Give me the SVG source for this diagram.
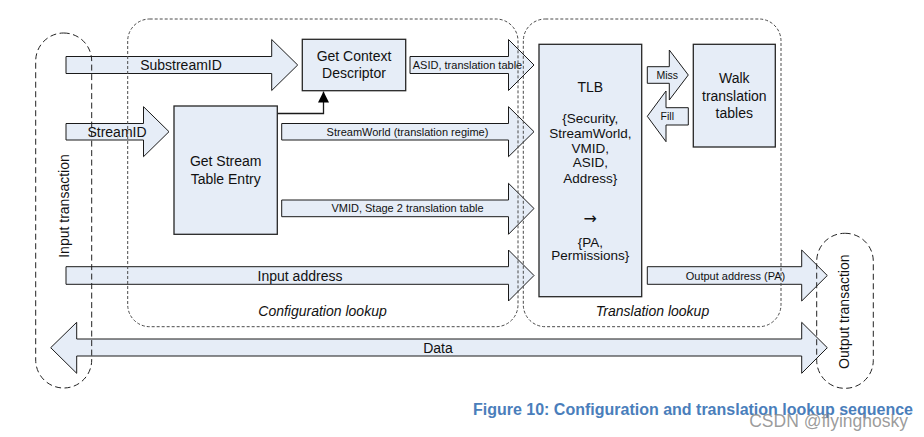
<svg xmlns="http://www.w3.org/2000/svg" width="924" height="437" viewBox="0 0 924 437">
<style>
  .bg { fill: #ffffff; }
  .box { fill: #e6edf7; stroke: #262626; stroke-width: 1.3; }
  .arr { fill: #e6edf7; stroke: #1a1a1a; stroke-width: 1; stroke-linejoin: miter; }
  .grp { fill: none; stroke: #4a4a4a; stroke-width: 1; stroke-dasharray: 3 2; }
  .txn { fill: none; stroke: #222222; stroke-width: 1; stroke-dasharray: 6 3.5; }
  .t14 { font-family: "Liberation Sans", Arial, sans-serif; font-size: 14px; fill: #111111; text-anchor: middle; }
  .t13 { font-family: "Liberation Sans", Arial, sans-serif; font-size: 13.5px; fill: #111111; text-anchor: middle; }
  .t11 { font-family: "Liberation Sans", Arial, sans-serif; font-size: 11px; fill: #111111; text-anchor: middle; }
  .sym { font-family: "DejaVu Sans", sans-serif; font-size: 16px; fill: #111111; text-anchor: middle; }
  .it { font-family: "Liberation Sans", Arial, sans-serif; font-size: 14px; font-style: italic; fill: #111111; text-anchor: middle; }
  .cap { font-family: "Liberation Sans", Arial, sans-serif; font-size: 16px; font-weight: bold; fill: #4a7ebb; }
  .wm { font-family: "Liberation Sans", Arial, sans-serif; font-size: 17.5px; fill: #8a8a8a; fill-opacity: 0.85; }
  .line { fill: none; stroke: #1a1a1a; stroke-width: 1.3; }
</style>
<defs>
  <marker id="tri" viewBox="0 0 10 10" refX="10" refY="5" markerWidth="11" markerHeight="17" markerUnits="userSpaceOnUse" orient="auto">
    <path d="M0,0 L10,5 L0,10 Z" fill="#000000"/>
  </marker>
</defs>
<rect class="bg" x="0" y="0" width="924" height="437"/>

<g id="connectors">
  <polygon id="arr-substreamid" class="arr" points="66,56.5 271.7,56.5 271.7,39.5 297.7,65 271.7,90.5 271.7,73.5 66,73.5"/>
  <polygon id="arr-streamid" class="arr" points="66,123.5 143.5,123.5 143.5,106.7 169,131.7 143.5,156.7 143.5,140 66,140"/>
  <polygon id="arr-asid" class="arr" points="410,56.5 508.5,56.5 508.5,39.5 534,65 508.5,90.5 508.5,73.5 410,73.5"/>
  <polygon id="arr-streamworld" class="arr" points="281.7,123.5 508.5,123.5 508.5,106.7 534,131.7 508.5,156.7 508.5,140 281.7,140"/>
  <polygon id="arr-vmid" class="arr" points="281.7,200 508.5,200 508.5,183.3 534,208.5 508.5,234.3 508.5,216.7 281.7,216.7"/>
  <polygon id="arr-inaddr" class="arr" points="66,266.7 508.5,266.7 508.5,250 534,275.5 508.5,301 508.5,284.3 66,284.3"/>
  <polygon id="arr-outaddr" class="arr" points="647.3,266.7 801.7,266.7 801.7,250 827.3,275.5 801.7,301 801.7,284.3 647.3,284.3"/>
  <polygon id="arr-miss" class="arr" points="647.3,66.7 669.3,66.7 669.3,50 688.3,75 669.3,100 669.3,83.3 647.3,83.3"/>
  <polygon id="arr-fill" class="arr" points="688.3,107.7 666,107.7 666,91 647.3,116.3 666,141.7 666,125 688.3,125"/>
  <polygon id="arr-data" class="arr" points="50.7,347.7 76.7,322.3 76.7,339 801.7,339 801.7,322.3 827.3,347.7 801.7,373.3 801.7,356 76.7,356 76.7,373.3"/>
  <path id="line-ste-cd" class="line" d="M277.3,113.5 H323.5 V91.5" marker-end="url(#tri)"/>

  <text class="t14" x="181" y="70">SubstreamID</text>
  <text class="t14" x="117" y="136.5">StreamID</text>
  <text class="t11" x="467.5" y="68.8">ASID, translation table</text>
  <text class="t11" x="407.5" y="135.5">StreamWorld (translation regime)</text>
  <text class="t11" x="407.5" y="212.3">VMID, Stage 2 translation table</text>
  <text class="t14" x="300" y="280.5">Input address</text>
  <text class="t11" x="735.5" y="279.5">Output address (PA)</text>
  <text class="t11" x="667.3" y="79" style="font-size:10.5px">Miss</text>
  <text class="t11" x="667.3" y="120" style="font-size:10.5px">Fill</text>
  <text class="t14" x="438" y="352.5">Data</text>
</g>

<g id="node-context-descriptor">
  <rect class="box" x="302.3" y="39.3" width="103.4" height="51.4"/>
  <text class="t14" x="354" y="61">Get Context</text>
  <text class="t14" x="354" y="77.7">Descriptor</text>
</g>

<g id="node-stream-table">
  <rect class="box" x="174" y="106" width="103.3" height="128.3"/>
  <text class="t14" x="225.7" y="166">Get Stream</text>
  <text class="t14" x="225.7" y="184">Table Entry</text>
</g>

<g id="node-tlb">
  <rect class="box" x="539" y="44.3" width="102.7" height="252.4"/>
  <text class="t14" x="590.3" y="91.7">TLB</text>
  <text class="t13" x="590.3" y="123">{Security,</text>
  <text class="t13" x="590.3" y="138">StreamWorld,</text>
  <text class="t13" x="590.3" y="153">VMID,</text>
  <text class="t13" x="590.3" y="167.2">ASID,</text>
  <text class="t13" x="590.3" y="182.5">Address}</text>
  <text class="sym" x="590.3" y="224">→</text>
  <text class="t13" x="590.3" y="246.5">{PA,</text>
  <text class="t13" x="590.3" y="260">Permissions}</text>
</g>

<g id="node-walk">
  <rect class="box" x="693.3" y="44.3" width="82" height="102.7"/>
  <text class="t14" x="734.3" y="83.3">Walk</text>
  <text class="t14" x="734.3" y="100.7">translation</text>
  <text class="t14" x="734.3" y="118.3">tables</text>
</g>

<g id="group-config-lookup">
  <rect class="grp" x="127.7" y="19" width="390.3" height="307.7" rx="22" ry="22"/>
  <text class="it" x="322.5" y="316">Configuration lookup</text>
</g>

<g id="group-translation-lookup">
  <rect class="grp" x="523.3" y="19" width="257.7" height="307.7" rx="22" ry="22"/>
  <text class="it" x="652.5" y="316">Translation lookup</text>
</g>

<g id="node-input-transaction">
  <rect class="txn" x="35.7" y="33" width="56" height="355" rx="28" ry="28"/>
  <text class="t14" x="64" y="211" transform="rotate(-90 64 206)">Input transaction</text>
</g>

<g id="node-output-transaction">
  <rect class="txn" x="816.7" y="233.3" width="56.6" height="155" rx="28" ry="28"/>
  <text class="t14" x="844" y="316.7" transform="rotate(-90 844 311.7)">Output transaction</text>
</g>

<text class="cap" x="913" y="415" text-anchor="end">Figure 10: Configuration and translation lookup sequence</text>
<text class="wm" x="908" y="427" text-anchor="end">CSDN @flyinghosky</text>
</svg>
